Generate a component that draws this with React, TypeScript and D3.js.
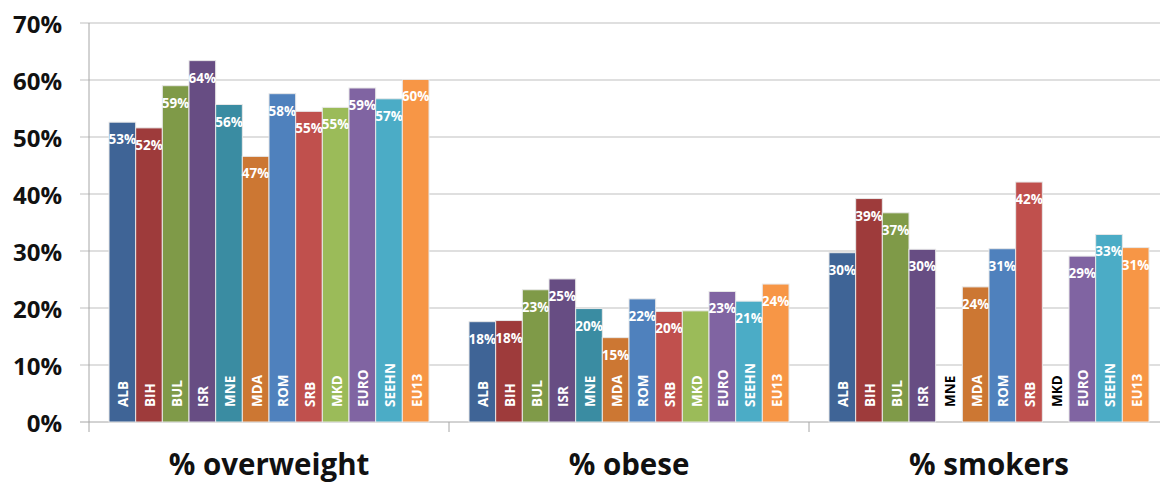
import React from "react";
import * as d3 from "d3";

const categories = ["% overweight", "% obese", "% smokers"];
const countries = ["ALB", "BIH", "BUL", "ISR", "MNE", "MDA", "ROM", "SRB", "MKD", "EURO", "SEEHN", "EU13"];
const colors = ["#3F6496", "#9E3B3B", "#7F9A48", "#674D83", "#3A8CA2", "#CC7733", "#4F81BD", "#C0504D", "#9BBB59", "#8064A2", "#4BACC6", "#F79646"];
const overweight = [52.6, 51.6, 59.0, 63.4, 55.7, 46.6, 57.6, 54.5, 55.2, 58.6, 56.7, 60.1];
const obese = [17.6, 17.8, 23.2, 25.1, 19.9, 14.8, 21.6, 19.4, 19.5, 22.9, 21.2, 24.2];
const smokers = [29.7, 39.2, 36.7, 30.3, null, 23.7, 30.4, 42.1, null, 29.1, 32.9, 30.6];
const valueLabels = [
  ["53%", "52%", "59%", "64%", "56%", "47%", "58%", "55%", "55%", "59%", "57%", "60%"],
  ["18%", "18%", "23%", "25%", "20%", "15%", "22%", "20%", "", "23%", "21%", "24%"],
  ["30%", "39%", "37%", "30%", "", "24%", "31%", "42%", "", "29%", "33%", "31%"],
];
const yTicks = [0, 10, 20, 30, 40, 50, 60, 70];

const series = [overweight, obese, smokers];

export default function App() {
  const W = 1160, H = 485;
  const left = 89, right = 1169, top = 23, bottom = 422;
  const y = d3.scaleLinear().domain([0, 70]).range([bottom, top]);
  const x0 = d3.scaleBand<string>().domain(categories).range([left, right]).padding(0);
  const x1 = d3.scaleBand<string>().domain(countries).range([20, x0.bandwidth() - 20]).padding(0);
  const font = "'Open Sans', 'Liberation Sans', sans-serif";

  return (
    <svg width={W} height={H} style={{ position: "absolute", left: 0, top: 0, background: "#fff" }} fontFamily={font}>
      {yTicks.map((t) => (
        <g key={t}>
          <line x1={80} x2={right} y1={y(t)} y2={y(t)} stroke={t === 0 ? "#A6A6A6" : "#BFBFBF"} strokeWidth={1} />
          <text x={62} y={y(t)} textAnchor="end" dominantBaseline="central" fontSize={24} fontWeight={700} fill="#111">
            {t}%
          </text>
        </g>
      ))}
      <line x1={left} x2={left} y1={top} y2={432} stroke="#A6A6A6" />
      {categories.map((c) => (
        <line key={"tk" + c} x1={(x0(c) as number) + x0.bandwidth()} x2={(x0(c) as number) + x0.bandwidth()} y1={bottom} y2={432} stroke="#A6A6A6" />
      ))}
      {categories.map((c, ci) => (
        <g key={c} transform={`translate(${x0(c)},0)`}>
          {countries.map((k, i) => {
            const v = series[ci][i];
            const bx = x1(k) as number;
            const bw = x1.bandwidth();
            const cx = bx + bw / 2;
            return (
              <g key={k}>
                {v != null && (
                  <rect x={bx} y={y(v)} width={bw} height={bottom - y(v)} fill={colors[i]} stroke="#E8E8E8" strokeWidth={1} />
                )}
                {v != null && valueLabels[ci][i] && (
                  <text x={cx} y={y(v) + 17} textAnchor="middle" dominantBaseline="central" fontSize={13.5} fontWeight={700} fill="#fff">
                    {valueLabels[ci][i]}
                  </text>
                )}
                <text
                  transform={`translate(${cx + 1},${407}) rotate(-90)`}
                  textAnchor="start"
                  dominantBaseline="central"
                  fontSize={13.5}
                  fontWeight={700}
                  fill={v == null ? "#000" : "#fff"}
                >
                  {k}
                </text>
              </g>
            );
          })}
          <text x={x0.bandwidth() / 2} y={475} textAnchor="middle" fontSize={29.5} fontWeight={700} fill="#111">
            {c}
          </text>
        </g>
      ))}
    </svg>
  );
}
